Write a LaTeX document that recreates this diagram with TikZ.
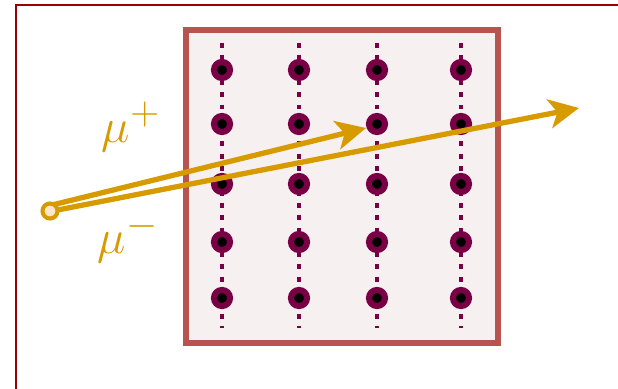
\documentclass[tikz,border=0pt]{standalone}
\usetikzlibrary{arrows.meta}
\definecolor{marco}{HTML}{990000}
\definecolor{borde}{HTML}{B85450}
\definecolor{relleno}{HTML}{F6F0F0}
\definecolor{punto}{HTML}{7A0046}
\definecolor{naranja}{HTML}{D79B00}
\definecolor{naranjaclaro}{HTML}{FFE6CC}
\begin{document}
\begin{tikzpicture}[
    nucleo/.style={circle, fill=black, draw=punto, line width=3.5pt, inner sep=0pt, minimum size=0.32cm},
    cadena/.style={punto, line width=2.6pt, dash pattern=on 2.8pt off 4.2pt},
    muon/.style={naranja, line width=3pt, -{Stealth[length=17pt,width=16.5pt,inset=4.5pt]}},
    fuente/.style={circle, fill=naranjaclaro, draw=naranja, line width=2.3pt, inner sep=0pt, minimum size=0.3cm},
    etiqueta/.style={text=naranja, font=\Huge, scale=1.1}
]
    \clip (0,0) rectangle (12.36,7.76);

    % Marco
    \draw[marco, line width=1.1pt] (0.32,-1) rectangle (13,7.66);

    % Bloque
    \draw[borde, fill=relleno, line width=3.4pt] (3.72,0.9) rectangle (9.96,7.16);

    % Cadenas de atomos
    \foreach \x [count=\i] in {4.44,5.98,7.54,9.22} {
        \coordinate (c\i-top) at (\x,6.9);
        \coordinate (c\i-bot) at (\x,1.2);
        \draw[cadena] (c\i-top) -- (c\i-bot);
        \foreach \y [count=\j] in {6.36,5.28,4.08,2.92,1.8}
            \node[nucleo] (n\i\j) at (\x,\y) {};
    }

    % Muones
    \coordinate (origen) at (1.0,3.54);
    \coordinate (mplus) at (7.32,5.2);
    \coordinate (mminus) at (11.58,5.6);
    \draw[muon] ([yshift=0.11cm]origen) -- (mplus);
    \draw[muon] ([yshift=-0.01cm]origen) -- (mminus);
    \node[fuente] (src) at (origen) {};

    % Etiquetas
    \node[etiqueta] (lplus) at (2.62,5.22) {$\mu^+$};
    \node[etiqueta] (lminus) at (2.56,3.0) {$\mu^-$};
\end{tikzpicture}
\end{document}
